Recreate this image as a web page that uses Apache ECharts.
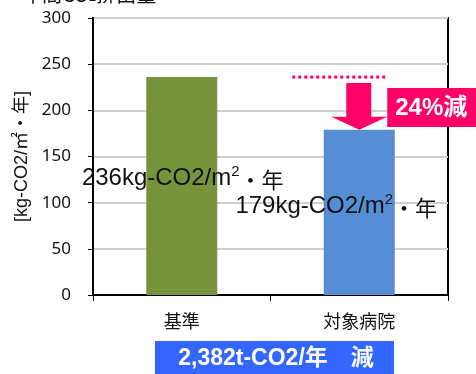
<!DOCTYPE html>
<html>
<head>
<meta charset="utf-8">
<script src="https://cdn.jsdelivr.net/npm/echarts@6/dist/echarts.min.js"></script>
<style>
  html, body { margin: 0; padding: 0; background: #fff; }
  #chart { width: 476px; height: 374px; }
</style>
</head>
<body>
<div id="chart"></div>
<script>
// Annual CO2 emission intensity: baseline vs. the target hospital
const categories = ['基準', '対象病院'];
const values = [236, 179];
const barColors = ['#77933C', '#558ED5'];
const yTicks = { min: 0, max: 300, interval: 50 };
const reductionPct = '24%減';
const totalReduction = '2,382t-CO2/年\u3000減';

const LATIN = '"Liberation Sans", Arial, "Noto Sans CJK JP", sans-serif';
const CJK = '"Noto Sans CJK JP", "Liberation Sans", sans-serif';

const chart = echarts.init(document.getElementById('chart'), null, { renderer: 'canvas' });

function valueLabel(v, offsetX) {
  return {
    show: true,
    position: ['50%', '46%'],
    align: 'center',
    verticalAlign: 'middle',
    offset: [offsetX, 0],
    formatter: '{a|' + v + 'kg-CO2/m}{s|2}{c|・年}',
    rich: {
      a: { fontFamily: LATIN, fontSize: 24, color: '#111', verticalAlign: 'bottom', lineHeight: 26 },
      s: { fontFamily: LATIN, fontSize: 15, color: '#111', verticalAlign: 'top', lineHeight: 26 },
      c: { fontFamily: CJK, fontSize: 22, color: '#111', verticalAlign: 'bottom', lineHeight: 26 }
    }
  };
}

chart.setOption({
  animation: false,
  backgroundColor: '#fff',
  grid: {
    left: 93, right: 28, top: 18, bottom: 79,
    show: true, borderColor: '#000', borderWidth: 2, backgroundColor: 'transparent'
  },
  xAxis: {
    type: 'category',
    data: categories,
    boundaryGap: true,
    axisLine: { lineStyle: { color: '#000', width: 2 } },
    axisTick: { show: true, length: 6, lineStyle: { color: '#000', width: 1 } },
    axisLabel: { margin: 17, fontSize: 18, color: '#111', fontFamily: CJK }
  },
  yAxis: {
    type: 'value',
    min: yTicks.min, max: yTicks.max, interval: yTicks.interval,
    name: '[kg-CO2/㎡・年]',
    nameLocation: 'middle',
    nameGap: 58,
    nameTextStyle: { fontSize: 18, color: '#111', fontFamily: LATIN },
    axisLine: { show: true, lineStyle: { color: '#000', width: 2 } },
    axisTick: { show: true, length: 5, lineStyle: { color: '#000', width: 1 } },
    axisLabel: { margin: 22, fontSize: 17, color: '#111', fontFamily: '"Noto Sans", sans-serif' },
    splitLine: { lineStyle: { color: '#D0D0D0', width: 2 } }
  },
  series: [{
    type: 'bar',
    barWidth: '40%',
    data: values.map((v, i) => ({
      value: v,
      itemStyle: { color: barColors[i] },
      label: valueLabel(v, i === 0 ? 1 : -23)
    }))
  }]
});

// Annotations anchored to the bars through the axis scales
function drawAnnotations() {
  const base = chart.convertToPixel({ gridIndex: 0 }, [0, values[0]]);
  const target = chart.convertToPixel({ gridIndex: 0 }, [1, values[1]]);
  const yBase = base[1];
  const tipY = target[1];
  const cx = target[0];
  const W = chart.getWidth();

  chart.setOption({
    graphic: [
      {
        type: 'text', left: 22, top: -16,
        style: {
          text: '{a|年間CO}{b|2}{a|排出量}',
          rich: {
            a: { fontFamily: CJK, fontSize: 20, fill: '#111' },
            b: { fontFamily: LATIN, fontSize: 13, fill: '#111', verticalAlign: 'bottom' }
          }
        }
      },
      {
        type: 'line',
        shape: { x1: cx - 67, y1: yBase, x2: cx + 27, y2: yBase },
        style: { stroke: '#FF0066', lineWidth: 3, lineDash: [3, 3] }
      },
      {
        type: 'polygon',
        shape: {
          points: [
            [cx - 13, yBase + 6], [cx + 12, yBase + 6], [cx + 12, tipY - 13],
            [cx + 28, tipY - 13], [cx, tipY], [cx - 28, tipY - 13], [cx - 13, tipY - 13]
          ]
        },
        style: { fill: '#FF0066' }
      },
      {
        type: 'rect',
        shape: { x: cx + 28, y: yBase + 11, width: W - cx - 28, height: 39 },
        style: { fill: '#FF0066' }
      },
      {
        type: 'text', x: cx + 36, y: yBase + 31,
        style: {
          text: reductionPct, fill: '#fff',
          font: 'bold 24px ' + LATIN, textVerticalAlign: 'middle'
        }
      },
      {
        type: 'rect',
        shape: { x: 155, y: 341, width: 239, height: 40 },
        style: { fill: '#3366FF' }
      },
      {
        type: 'text', x: 276, y: 359,
        style: {
          text: totalReduction, fill: '#fff',
          font: 'bold 23px ' + LATIN,
          textAlign: 'center', textVerticalAlign: 'middle'
        }
      }
    ]
  });
}
drawAnnotations();
</script>
</body>
</html>
